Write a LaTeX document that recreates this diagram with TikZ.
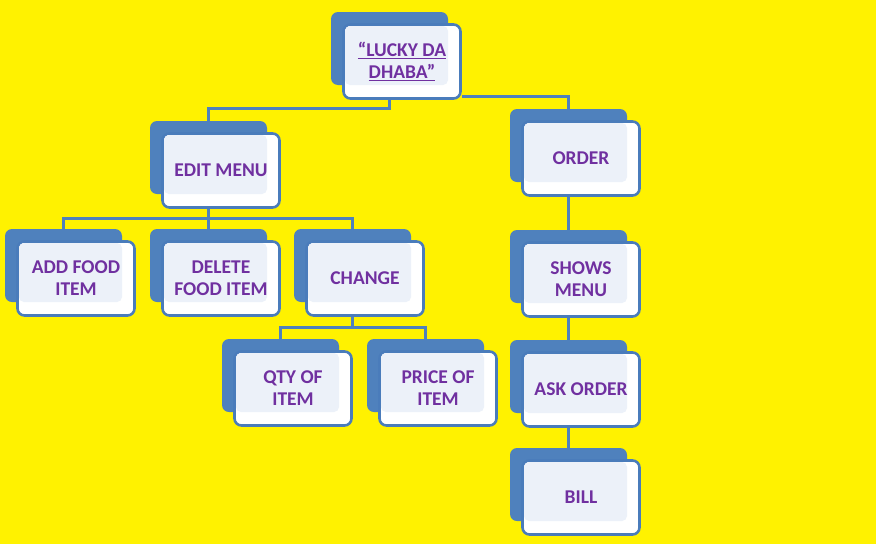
\documentclass[tikz,border=0pt]{standalone}
\usepackage{fontspec}
\setmainfont{Carlito}
\pgfdeclarelayer{background}
\pgfsetlayers{background,main}
\definecolor{bgyellow}{RGB}{255,242,0}
\definecolor{sablue}{RGB}{79,129,189}
\definecolor{saborder}{RGB}{74,124,187}
\definecolor{salight}{RGB}{236,241,249}
\definecolor{sapurple}{RGB}{112,48,160}
\newcommand\ulbox[1]{\setbox0\hbox{#1}\rlap{\color{sapurple}\rule[-2.6pt]{\wd0}{1.2pt}}\box0}
\tikzset{
  backbox/.style={fill=sablue, draw=none, rounded corners=7pt, minimum width=117pt, minimum height=73pt, inner sep=0pt, outer sep=0pt},
  frontbox/.style={fill=white, draw=saborder, line width=2.6pt, rounded corners=7pt, minimum width=117pt, minimum height=74pt, inner sep=0pt},
  overlapfill/.style={fill=salight},
  txt/.style={font=\bfseries\fontsize{19.5}{22}\selectfont, text=sapurple, align=center, inner sep=0pt},
  conn/.style={draw=sablue, line width=3pt},
}
\newcommand\smbox[4]{%
  \node[backbox] (#1b) at (#2+58.5,#3+36.5) {};
  \node[frontbox] (#1f) at (#2+71,#3+49.5) {};
  \fill[overlapfill, rounded corners=5pt] (#2+14,#3+14) rectangle (#2+117,#3+73);
  \node[txt] (#1) at (#1f.center) {#4};
}
\begin{document}
\begin{tikzpicture}[x=1pt,y=-1pt]
\useasboundingbox (0,0) rectangle (876,544);
\begin{pgfonlayer}{background}
\fill[bgyellow] (0,0) rectangle (876,544);
\end{pgfonlayer}
\smbox{lucky}{331}{12}{\ulbox{“LUCKY DA}\\\ulbox{DHABA”}}
\smbox{edit}{150}{121}{EDIT MENU}
\smbox{order}{510}{109}{ORDER}
\smbox{add}{5}{229}{ADD FOOD\\ITEM}
\smbox{delete}{150}{229}{DELETE\\FOOD ITEM}
\smbox{change}{294}{229}{CHANGE}
\smbox{shows}{510}{230}{SHOWS\\MENU}
\smbox{qty}{222}{339}{QTY OF\\ITEM}
\smbox{price}{367}{339}{PRICE OF\\ITEM}
\smbox{ask}{510}{340}{ASK ORDER}
\smbox{bill}{510}{448}{BILL}
\coordinate (j1) at (0,108);
\coordinate (j2) at (0,96);
\coordinate (j3) at (0,218);
\coordinate (j4) at (0,327);
\begin{pgfonlayer}{background}
\draw[conn] (luckyf.south -| luckyb.center) -- (luckyb.center |- j1) -| (editb.north);
\draw[conn] (luckyf.east |- j2) -| (orderb.north);
\draw[conn] (editf.south -| editb.center) -- (deleteb.north);
\draw[conn] (addb.north) |- (deleteb.center |- j3) -| (changeb.north);
\draw[conn] (changef.south -| changeb.center) -- (changeb.center |- j4);
\draw[conn] (qtyb.north) |- (changeb.center |- j4) -| (priceb.north);
\draw[conn] (orderf.south -| orderb.center) -- (showsb.north);
\draw[conn] (showsf.south -| showsb.center) -- (askb.north);
\draw[conn] (askf.south -| askb.center) -- (billb.north);
\end{pgfonlayer}
\end{tikzpicture}
\end{document}
